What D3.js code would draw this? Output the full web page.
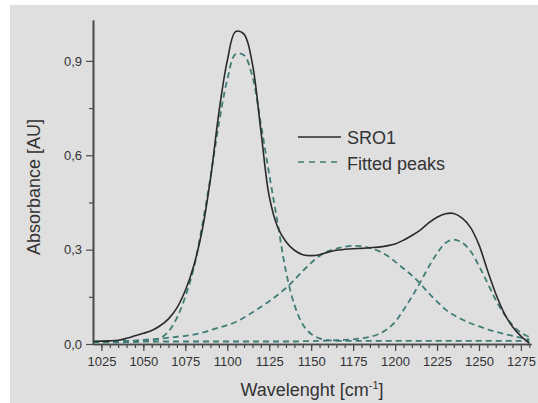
<!DOCTYPE html>
<html>
<head>
<meta charset="utf-8">
<script src="https://cdn.jsdelivr.net/npm/d3@7/dist/d3.min.js"></script>
<style>
  html, body { margin: 0; padding: 0; background: #ffffff; }
  svg { display: block; }
  text { font-family: "Liberation Sans", Arial, sans-serif; fill: #333333; }
</style>
</head>
<body>
<svg id="chart" width="538" height="403"></svg>
<script>
// Wavenumber grid (cm^-1)
const wavenumber = [1020,1025,1030,1035,1040,1045,1050,1055,1060,1065,1070,1075,1080,1085,1090,1095,1100,1105,1110,1115,1120,1125,1130,1135,1140,1145,1150,1155,1160,1165,1170,1175,1180,1185,1190,1195,1200,1205,1210,1215,1220,1225,1230,1235,1240,1245,1250,1255,1260,1265,1270,1275,1280];

// Measured absorbance of sample SRO1
const sro1 = [0.008,0.009,0.010,0.012,0.018,0.026,0.034,0.043,0.058,0.080,0.115,0.170,0.248,0.360,0.525,0.735,0.900,0.993,0.985,0.890,0.680,0.470,0.372,0.325,0.298,0.284,0.281,0.284,0.292,0.298,0.301,0.303,0.304,0.306,0.308,0.312,0.318,0.330,0.345,0.362,0.385,0.403,0.414,0.415,0.400,0.370,0.315,0.235,0.160,0.098,0.055,0.025,0.003];

// Fitted component peaks
const peak1 = [0.005,0.005,0.005,0.005,0.006,0.007,0.009,0.012,0.018,0.040,0.083,0.150,0.240,0.375,0.530,0.700,0.840,0.922,0.918,0.850,0.700,0.540,0.385,0.230,0.125,0.062,0.032,0.018,0.012,0.010,0.010,0.010,0.010,0.010,0.010,0.010,0.010,0.010,0.010,0.010,0.010,0.010,0.010,0.010,0.010,0.010,0.010,0.010,0.010,0.010,0.010,0.010,0.010];
const peak2 = [0.006,0.007,0.008,0.009,0.010,0.011,0.013,0.015,0.017,0.020,0.023,0.026,0.030,0.036,0.044,0.052,0.060,0.070,0.084,0.100,0.118,0.136,0.156,0.178,0.204,0.232,0.258,0.280,0.295,0.303,0.309,0.312,0.311,0.305,0.296,0.282,0.262,0.240,0.218,0.192,0.162,0.135,0.110,0.092,0.078,0.066,0.056,0.047,0.039,0.032,0.026,0.020,0.015];
const peak3 = [0.008,0.008,0.008,0.008,0.008,0.008,0.008,0.008,0.008,0.008,0.008,0.008,0.008,0.008,0.008,0.008,0.008,0.008,0.008,0.008,0.008,0.008,0.008,0.008,0.008,0.009,0.009,0.010,0.011,0.012,0.013,0.015,0.018,0.023,0.031,0.046,0.070,0.108,0.150,0.196,0.245,0.288,0.321,0.332,0.322,0.295,0.248,0.195,0.140,0.095,0.060,0.036,0.022];

// Axis ticks
const xMajorTicks = [1025,1050,1075,1100,1125,1150,1175,1200,1225,1250,1275];
const xMinorTicks = d3.range(1025, 1281, 5);
const yMajorTicks = [0.0, 0.3, 0.6, 0.9];
const yMinorTicks = [0.15, 0.45, 0.75];

const legendLabels = ["SRO1", "Fitted peaks"];

const svg = d3.select("#chart");
const W = 538, H = 403;

// panel background
svg.append("rect").attr("x", 10).attr("y", 5).attr("width", W - 10).attr("height", H - 5)
  .attr("fill", "#dfdfdf");

const x = d3.scaleLinear().domain([1020, 1281]).range([93, 531]);
const y = d3.scaleLinear().domain([0, 1.03]).range([344, 20]);

const comma = d3.formatLocale({decimal: ",", thousands: ".", grouping: [3], currency: ["", ""]});
const yFmt = comma.format(".1f");

const axisColor = "#4a4a4a";

// minor ticks
const gxMinor = svg.append("g").attr("transform", `translate(0,${y(0)})`)
  .call(d3.axisBottom(x).tickValues(xMinorTicks).tickSize(4).tickSizeOuter(0).tickFormat(""));
const gyMinor = svg.append("g").attr("transform", `translate(${x(1020)},0)`)
  .call(d3.axisLeft(y).tickValues(yMinorTicks).tickSize(4).tickSizeOuter(0).tickFormat(""));

// major ticks with labels
const gx = svg.append("g").attr("transform", `translate(0,${y(0)})`)
  .call(d3.axisBottom(x).tickValues(xMajorTicks).tickSize(7).tickSizeOuter(0).tickPadding(6).tickFormat(d3.format("d")));
const gy = svg.append("g").attr("transform", `translate(${x(1020)},0)`)
  .call(d3.axisLeft(y).tickValues(yMajorTicks).tickSize(7).tickSizeOuter(0).tickPadding(4).tickFormat(yFmt));

[gxMinor, gyMinor, gx, gy].forEach(g => {
  g.selectAll("path.domain").attr("stroke", axisColor).attr("stroke-width", 1.6);
  g.selectAll(".tick line").attr("stroke", axisColor).attr("stroke-width", 1.2);
  g.selectAll(".tick text").attr("fill", "#333333").style("font-size", "13px")
    .style("font-family", "'Liberation Sans', Arial, sans-serif");
});

// curves
const pts = vals => wavenumber.map((w, i) => [w, vals[i]]);
const line = d3.line().x(d => x(d[0])).y(d => y(d[1])).curve(d3.curveCatmullRom.alpha(0.5));

const dashColor = "#3f7d76";
[peak1, peak2, peak3].forEach(p => {
  svg.append("path").attr("d", line(pts(p)))
    .attr("fill", "none").attr("stroke", dashColor).attr("stroke-width", 1.8)
    .attr("stroke-dasharray", "6,4");
});

svg.append("path").attr("d", line(pts(sro1)))
  .attr("fill", "none").attr("stroke", "#2a2a2a").attr("stroke-width", 1.6);

// axis titles
const xt = svg.append("text").attr("x", (x(1020) + x(1281)) / 2).attr("y", 396)
  .attr("text-anchor", "middle").style("font-size", "18px");
xt.append("tspan").text("Wavelenght [cm");
xt.append("tspan").attr("dy", -7).style("font-size", "11px").text("-1");
xt.append("tspan").attr("dy", 7).text("]");

svg.append("text").attr("transform", "translate(40,187) rotate(-90)")
  .attr("text-anchor", "middle").style("font-size", "18px").text("Absorbance [AU]");

// legend
const legend = svg.append("g");
legend.append("line").attr("x1", 298).attr("x2", 341).attr("y1", 137).attr("y2", 137)
  .attr("stroke", "#2a2a2a").attr("stroke-width", 1.6);
legend.append("line").attr("x1", 298).attr("x2", 341).attr("y1", 162).attr("y2", 162)
  .attr("stroke", dashColor).attr("stroke-width", 1.6).attr("stroke-dasharray", "6,5");
legend.selectAll("text.lg").data(legendLabels).enter().append("text")
  .attr("class", "lg").attr("x", 347).attr("y", (d, i) => 144 + i * 26)
  .style("font-size", "18px").text(d => d);
</script>
</body>
</html>
